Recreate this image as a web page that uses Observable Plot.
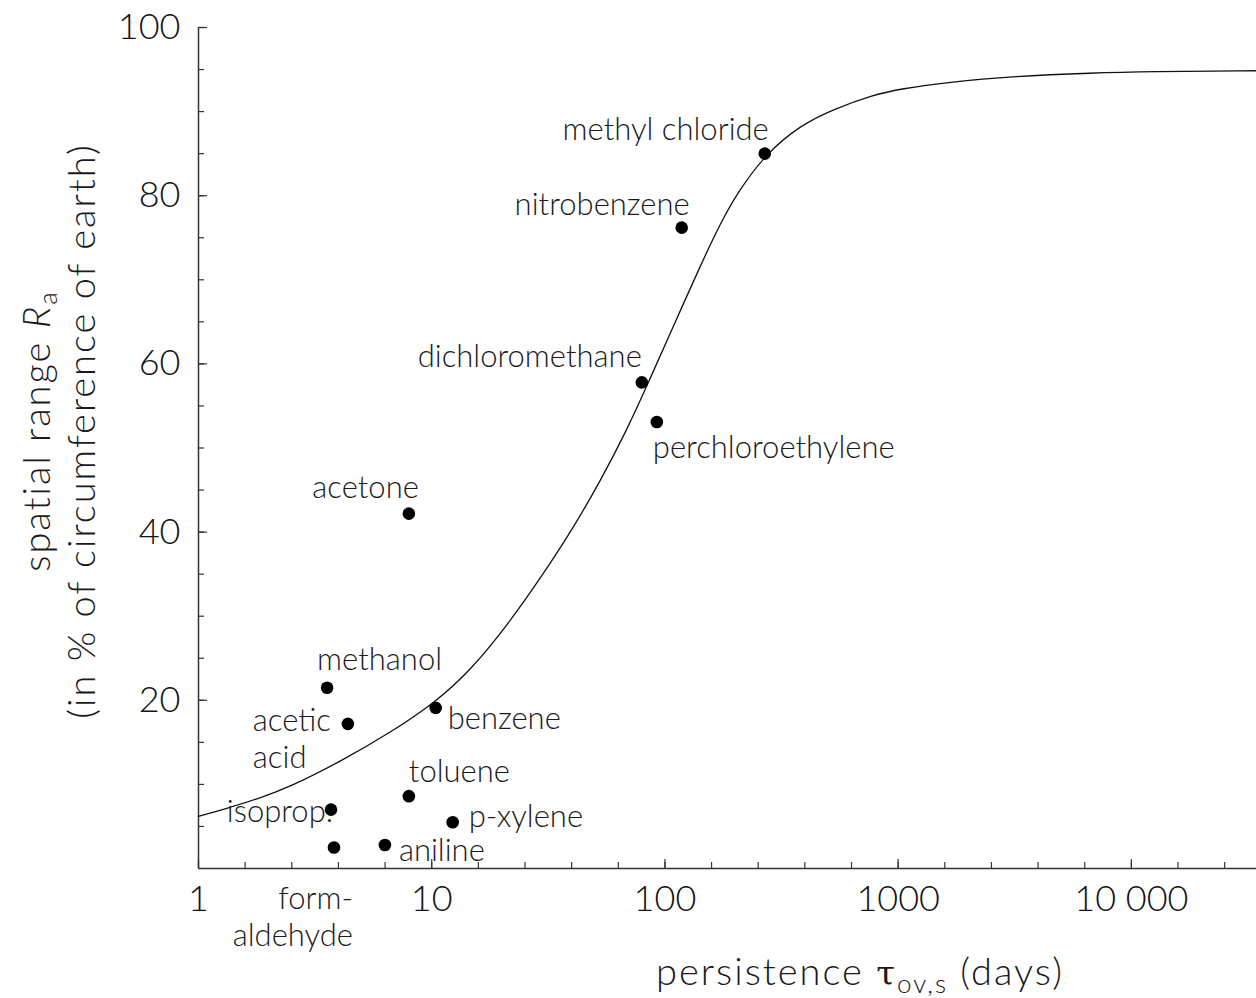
<!DOCTYPE html>
<html><head><meta charset="utf-8">
<script src="https://cdn.jsdelivr.net/npm/d3@7"></script>
<script src="https://cdn.jsdelivr.net/npm/@observablehq/plot@0.6"></script>
<style>
  html,body{margin:0;padding:0;background:#fff;overflow:hidden}
  svg{display:block}
</style>
</head><body><div id="chart"></div>
<script>
// ---- data ----
const chemicals = ["methyl chloride","nitrobenzene","dichloromethane","perchloroethylene","acetone","methanol","acetic\nacid","benzene","toluene","isoprop.","p-xylene","form-\naldehyde","aniline"];
const persistenceDays = [268, 118, 79.6, 92.3, 7.98, 3.56, 4.37, 10.4, 7.98, 3.70, 12.3, 3.81, 6.30];
const spatialRange = [85.0, 76.2, 57.8, 53.1, 42.2, 21.5, 17.2, 19.1, 8.6, 7.0, 5.5, 2.5, 2.8];

const curvePersistence = [1, 1.286, 1.853, 2.49, 4.08, 6.69, 10.42, 14.72, 21.2, 29.4, 40.7, 53.1, 68.0, 85.3, 106, 142.5, 173.6, 205, 271, 382, 530, 786, 1026, 1632, 3130, 6890, 11750, 34400];
const curveRange = [6.20, 7.05, 8.40, 9.75, 12.75, 16.20, 19.80, 23.6, 29.0, 34.6, 40.6, 46.2, 51.9, 57.9, 63.8, 71.8, 76.8, 80.4, 85.0, 88.4, 90.3, 92.0, 92.7, 93.5, 94.2, 94.6, 94.75, 94.86];

const xTickLabels = [1, 10, 100, 1000, 10000];
const xMinorTicks = d3.range(0, 23).map(k => Math.pow(10, k / 5));
const yTickLabels = [20, 40, 60, 80, 100];
const yMinorTicks = d3.range(5, 101, 5);

// ---- label placement (layout only) ----
const labelPlacement = [
  {anchor: "end", dx: 4, dy: -26},
  {anchor: "end", dx: 8, dy: -25},
  {anchor: "end", dx: 0, dy: -27},
  {anchor: "start", dx: -4, dy: 24},
  {anchor: "end", dx: 10, dy: -28},
  {anchor: "start", dx: -10, dy: -30},
  {anchor: "start", dx: -95, dy: 14},
  {anchor: "start", dx: 12, dy: 9},
  {anchor: "start", dx: 0, dy: -26},
  {anchor: "end", dx: 2, dy: 0},
  {anchor: "start", dx: 16, dy: -7},
  {anchor: "end", dx: 19, dy: 68},
  {anchor: "start", dx: 14, dy: 4}
];

const FONT = "Lato, 'Open Sans', sans-serif";
const points = chemicals.map((c, i) => ({name: c, x: persistenceDays[i], y: spatialRange[i]}));
const curve = curvePersistence.map((x, i) => ({x, y: curveRange[i]}));
const xMax = curvePersistence[curvePersistence.length - 1];
const fmt = d => d >= 10000 ? d3.format(",")(d).replace(/,/g, " ") : String(d);
const axisColor = "#333";

const labelMarks = points.map((p, i) => Plot.text([p], {
  x: "x", y: "y", text: "name",
  textAnchor: labelPlacement[i].anchor,
  dx: labelPlacement[i].dx, dy: labelPlacement[i].dy,
  fontSize: 31, lineHeight: 1.2, fill: "#1a1a1a", fontWeight: 300,
  ariaLabel: "chem-label"
}));

const plot = Plot.plot({
  width: 1256, height: 998,
  marginLeft: 198, marginRight: 0, marginTop: 27, marginBottom: 130,
  style: {fontFamily: FONT, background: "#fff", color: "#111"},
  x: {type: "log", domain: [1, xMax], axis: null},
  y: {domain: [0, 100], axis: null},
  marks: [
    Plot.ruleX([1], {y1: 0, y2: 100, stroke: axisColor, strokeWidth: 1.5}),
    Plot.ruleY([0], {x1: 1, x2: xMax, stroke: axisColor, strokeWidth: 1.5}),
    Plot.ruleY(yMinorTicks, {y: d => d, x1: 1, x2: 1, stroke: axisColor, strokeWidth: 1.2, insetRight: -6}),
    Plot.ruleY(yTickLabels, {y: d => d, x1: 1, x2: 1, stroke: axisColor, strokeWidth: 1.2, insetRight: -9}),
    Plot.ruleX(xMinorTicks, {x: d => d, y1: 0, y2: 0, stroke: axisColor, strokeWidth: 1.2, insetTop: -6}),
    Plot.ruleX(xTickLabels, {x: d => d, y1: 0, y2: 0, stroke: axisColor, strokeWidth: 1.2, insetTop: -9}),
    Plot.axisX(xTickLabels, {tickSize: 0, tickPadding: 17, tickFormat: fmt, fontSize: 36, fontWeight: 300, fill: "#111", label: null}),
    Plot.axisY(yTickLabels, {tickSize: 0, tickPadding: 18, fontSize: 36, fontWeight: 300, fill: "#111", label: null}),
    Plot.line(curve, {x: "x", y: "y", curve: "basis", stroke: "#111", strokeWidth: 1.3}),
    Plot.dot(points, {x: "x", y: "y", r: 6.3, fill: "#000"}),
    ...labelMarks
  ]
});

document.getElementById("chart").appendChild(plot);

const svg = d3.select(plot);
svg.selectAll('g[aria-label="chem-label"] text').style("letter-spacing", "4px");

// ---- axis titles (rich text) ----
const titleStyle = s => s.attr("font-family", FONT).attr("font-size", 38).attr("font-weight", 300)
  .attr("fill", "#1a1a1a").style("letter-spacing", "2px");

const y1 = svg.append("text").attr("transform", "translate(50,431) rotate(-90)").attr("text-anchor", "middle").call(titleStyle);
y1.append("tspan").text("spatial range ");
y1.append("tspan").attr("font-style", "italic").text("R");
y1.append("tspan").attr("font-size", 26).attr("dy", 7).text("a");

const y2 = svg.append("text").attr("transform", "translate(95,431) rotate(-90)").attr("text-anchor", "middle").call(titleStyle);
y2.text("(in % of circumference of earth)");

const xt = svg.append("text").attr("x", 860).attr("y", 985).attr("text-anchor", "middle").call(titleStyle);
xt.append("tspan").text("persistence ");
xt.append("tspan").attr("font-family", "'DejaVu Serif', serif").attr("font-size", 34).text("τ");
xt.append("tspan").attr("font-size", 26).attr("dy", 8).text("ov,s");
xt.append("tspan").attr("dy", -8).text(" (days)");
</script>
</body></html>
